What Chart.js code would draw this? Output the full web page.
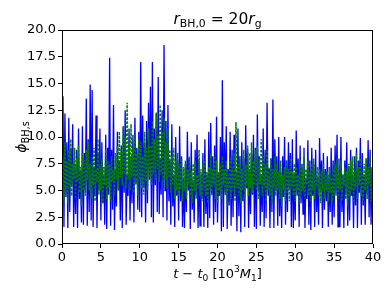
<!DOCTYPE html>
<html>
<head>
<meta charset="utf-8">
<script src="https://cdn.jsdelivr.net/npm/chart.js@4"></script>
<style>
html,body{margin:0;padding:0;background:#fff;}
#wrap{width:390px;height:293px;position:relative;}
</style>
</head>
<body>
<div id="wrap"><canvas id="c" width="390" height="293"></canvas></div>
<script>
// ---- data ----
const DT = 0.125; // sampling step in 10^3 M1
const xTicks = [0, 5, 10, 15, 20, 25, 30, 35, 40];
const yTicks = [0, 2.5, 5, 7.5, 10, 12.5, 15, 17.5, 20];
const blueVals = [
5.2,13.8,1.6,12.2,4.4,9.5,1.5,11.8,
3.0,9.0,5.5,11.2,1.6,7.5,2.8,8.8,
1.5,10.8,4.2,6.8,2.0,11.0,1.8,8.5,
5.0,13.6,1.7,9.8,3.0,14.9,2.2,14.4,
1.6,7.2,4.5,12.0,1.5,8.5,5.0,10.8,
2.2,9.5,3.8,6.5,1.8,10.2,1.4,9.0,
4.6,17.4,1.7,8.8,3.2,13.0,1.3,7.0,
3.5,10.5,5.0,7.8,2.2,9.2,1.5,11.0,
4.8,12.5,1.8,6.5,4.5,10.8,2.2,8.2,
3.8,10.2,2.0,11.8,5.8,9.0,3.2,10.5,
3.0,17.0,2.5,12.0,5.2,9.5,2.0,11.5,
3.8,13.2,6.0,14.7,2.5,17.0,2.0,10.8,
5.5,12.2,3.0,15.6,2.8,8.0,4.6,12.5,
2.5,18.6,5.0,11.5,2.2,13.0,4.0,7.8,
1.8,11.2,3.5,6.5,1.6,10.0,4.5,7.8,
2.2,11.0,4.0,8.2,1.6,6.2,1.5,7.5,
3.0,10.5,5.0,8.0,1.4,9.5,3.2,6.0,
2.0,8.8,4.5,10.2,1.5,7.8,1.7,6.5,
4.2,8.5,1.6,9.8,2.8,6.5,1.5,10.5,
2.4,11.3,4.6,8.2,1.8,9.2,3.0,11.9,
2.0,6.5,4.5,10.0,1.2,15.3,1.6,9.5,
4.8,11.0,1.4,7.0,3.6,10.5,1.7,8.8,
2.5,10.2,4.5,6.8,1.2,10.8,2.6,8.2,
1.1,9.5,4.0,8.0,1.6,11.1,5.2,8.8,
1.5,7.0,2.8,8.5,4.6,10.2,1.6,9.0,
1.4,12.1,5.0,8.2,1.7,6.5,3.0,10.8,
1.6,8.8,2.4,13.2,4.5,7.0,1.5,8.0,
3.0,13.5,1.5,9.8,5.0,8.2,1.7,10.0,
2.6,6.8,1.5,8.2,4.4,10.0,1.8,7.8,
3.0,9.5,5.2,8.5,1.6,9.8,1.5,6.5,
2.2,10.6,4.5,8.0,1.6,9.2,3.8,7.5,
2.8,9.0,1.5,6.2,4.2,9.7,1.8,7.8,
1.3,9.0,4.5,7.5,1.6,8.8,3.0,6.2,
1.8,9.9,5.0,7.8,1.5,8.5,3.2,7.0,
4.0,8.2,1.6,6.5,3.0,9.0,1.8,7.8,
2.5,9.2,4.5,10.2,1.6,8.0,1.6,10.0,
3.0,6.5,1.5,7.8,4.6,9.5,1.7,7.2,
2.2,8.8,4.5,6.5,1.5,8.2,3.6,9.0,
1.5,7.8,4.8,9.9,1.8,8.5,3.6,6.5,
1.8,8.0,4.7,9.7,2.5,8.8,1.8,7.2,
5.0
];
const greenVals = [
5.5,8.2,4.0,9.5,5.0,7.8,3.8,8.8,
5.2,9.8,4.5,7.5,6.0,9.0,4.2,8.0,
5.8,9.2,4.8,7.2,3.5,8.5,5.0,7.8,
4.5,8.8,6.0,9.5,5.0,7.5,4.2,8.2,
5.5,9.0,4.0,7.0,5.8,9.8,4.6,7.5,
5.0,8.0,3.8,7.2,5.5,8.8,4.2,7.8,
5.2,7.5,4.0,8.2,5.8,7.0,4.5,8.5,
6.0,9.2,5.0,10.5,6.2,8.8,5.5,11.0,
6.5,10.0,5.2,13.2,6.0,9.5,5.0,11.2,
6.2,9.0,4.8,10.2,5.5,8.5,4.5,9.8,
6.0,9.5,5.2,8.2,4.6,10.5,5.8,9.0,
5.0,10.8,6.2,9.2,5.5,11.5,6.5,9.8,
6.0,12.3,7.0,10.2,5.8,13.0,6.5,10.5,
5.5,11.8,6.0,9.5,5.2,10.8,6.2,8.8,
4.8,8.2,5.5,9.0,4.2,7.8,5.0,8.5,
4.5,7.5,5.2,8.0,4.0,7.2,5.0,7.8,
4.2,7.0,5.5,8.2,4.5,6.8,3.8,7.5,
5.0,7.8,4.2,6.5,5.2,8.8,4.5,7.0,
4.0,7.5,5.0,8.0,4.5,6.8,3.8,7.2,
5.2,8.5,4.5,7.0,5.5,8.2,4.2,7.8,
3.8,6.8,5.0,7.5,4.2,8.2,5.5,7.0,
4.5,7.8,3.5,6.5,5.0,8.0,4.2,7.2,
5.0,8.5,4.0,11.4,5.2,7.5,4.5,8.2,
3.8,7.0,5.0,8.8,4.2,7.5,5.5,9.2,
4.5,8.5,5.2,9.5,4.8,7.8,5.5,8.8,
5.0,9.2,4.2,8.0,5.6,9.8,4.5,8.2,
5.2,7.5,4.0,8.8,5.0,7.2,4.5,8.0,
3.8,7.0,5.2,8.2,4.5,7.5,5.0,6.8,
4.2,7.8,3.5,6.5,5.0,7.2,4.0,7.8,
4.8,7.0,4.0,8.0,5.2,6.8,4.5,7.5,
4.0,7.2,5.0,6.5,3.8,7.8,4.6,7.0,
5.0,8.2,4.2,7.0,5.5,7.8,4.5,6.8,
4.0,7.5,5.0,8.0,4.2,6.5,5.2,7.2,
4.5,7.0,3.8,6.8,5.0,7.5,4.2,6.5,
5.0,6.8,4.0,7.2,4.8,6.2,3.8,7.0,
4.5,7.5,5.2,8.0,4.2,6.8,5.0,7.8,
4.0,6.5,5.5,7.2,4.2,6.8,3.5,7.5,
4.5,7.8,5.0,8.2,4.0,7.0,5.2,8.5,
4.2,7.2,5.5,8.0,4.5,6.8,3.8,7.5,
5.0,8.0,4.2,7.2,5.5,8.2,4.0,7.0,
5.5
];

const toPts = arr => arr.map((v, i) => ({x: i * DT, y: v}));

const FONT = '"DejaVu Sans", sans-serif';

function drawMath(ctx, segs, cx, cy, size, rot) {
  ctx.save();
  ctx.translate(cx, cy);
  if (rot) ctx.rotate(rot);
  ctx.fillStyle = '#000';
  ctx.textBaseline = 'alphabetic';
  const items = segs.map(s => {
    const sz = (s.sub || s.sup) ? size * 0.7 : size;
    const f = (s.it ? 'italic ' : '') + sz + 'px ' + FONT;
    ctx.font = f;
    return {s, f, w: ctx.measureText(s.t).width};
  });
  const tot = items.reduce((a, b) => a + b.w, 0);
  let x = -tot / 2;
  const base = size * 0.36;
  items.forEach(it => {
    ctx.font = it.f;
    let dy = base;
    if (it.s.sub) dy += size * 0.22;
    if (it.s.sup) dy -= size * 0.42;
    ctx.fillText(it.s.t, x, dy);
    x += it.w;
  });
  ctx.restore();
}

const decor = {
  id: 'decor',
  afterDraw(chart) {
    const {ctx, chartArea: a} = chart;
    ctx.save();
    ctx.strokeStyle = '#000';
    ctx.lineWidth = 1;
    ctx.strokeRect(Math.round(a.left) + 0.5, Math.round(a.top) + 0.5,
      Math.round(a.right - a.left) - 1, Math.round(a.bottom - a.top) - 1);
    ctx.restore();
    const cx = (a.left + a.right) / 2;
    drawMath(ctx, [{t:'r', it:true}, {t:'BH,0', sub:true}, {t:' = 20'}, {t:'r', it:true}, {t:'g', sub:true}], cx, 18, 15.5, 0);
    drawMath(ctx, [{t:'t', it:true}, {t:' \u2212 '}, {t:'t', it:true}, {t:'0', sub:true}, {t:' [10'}, {t:'3', sup:true}, {t:'M', it:true}, {t:'1', sub:true}, {t:']'}], cx, 273, 13, 0);
    drawMath(ctx, [{t:'\u03d5', it:true}, {t:'BH,s', sub:true}], 21, (a.top + a.bottom) / 2, 14, -Math.PI / 2);
  }
};

new Chart(document.getElementById('c'), {
  type: 'line',
  data: {
    datasets: [
      {data: toPts(greenVals), borderColor: '#008000', borderWidth: 1.5, borderDash: [2.5, 1.5], pointRadius: 0, tension: 0, order: 0},
      {data: toPts(blueVals), borderColor: '#0000ff', borderWidth: 1.3, pointRadius: 0, tension: 0, order: 1}
    ]
  },
  options: {
    responsive: false,
    animation: false,
    events: [],
    layout: {padding: {left: 0, right: 17, top: 30, bottom: 0}},
    plugins: {legend: {display: false}, tooltip: {enabled: false}, title: {display: false}},
    scales: {
      x: {
        type: 'linear', min: 0, max: 40,
        afterFit: s => { s.height = 49; },
        afterBuildTicks: s => { s.ticks = xTicks.map(v => ({value: v})); },
        grid: {drawOnChartArea: false, tickLength: 4, color: '#000', tickColor: '#000'},
        border: {display: false},
        ticks: {color: '#000', font: {family: FONT, size: 13}, padding: 2, maxRotation: 0, callback: v => String(v)}
      },
      y: {
        type: 'linear', min: 0, max: 20,
        afterFit: s => { s.width = 62; },
        afterBuildTicks: s => { s.ticks = yTicks.map(v => ({value: v})); },
        grid: {drawOnChartArea: false, tickLength: 4, color: '#000', tickColor: '#000'},
        border: {display: false},
        ticks: {color: '#000', font: {family: FONT, size: 13}, padding: 2, callback: v => Number(v).toFixed(1)}
      }
    }
  },
  plugins: [decor]
});
</script>
</body>
</html>
